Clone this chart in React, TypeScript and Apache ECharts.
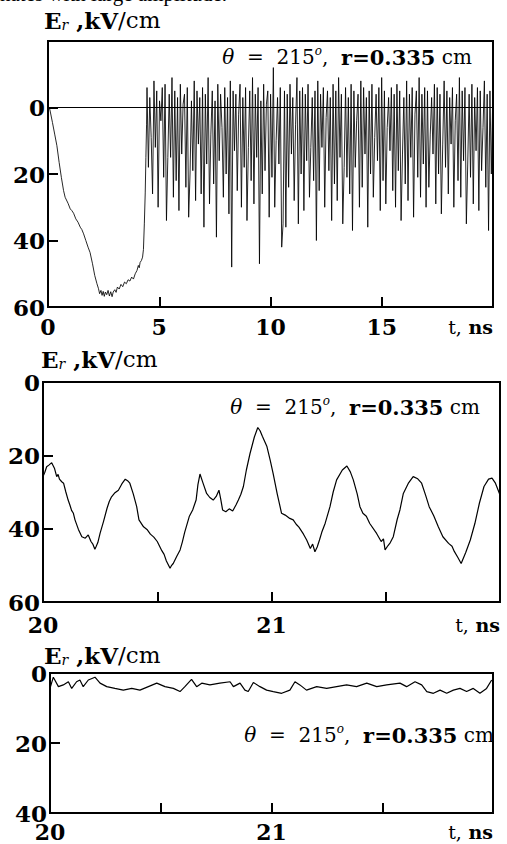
import React, { useEffect, useRef } from 'react';
import * as echarts from 'echarts';

// Panel 1: initial pulse (t in ns, Er in kV/cm, plotted downward)
const e1Pulse: [number, number][] = [
  [0, 0], [0.08, 0.5], [0.2, 4.5], [0.3, 8], [0.4, 11.5], [0.5, 16.5], [0.6, 21], [0.7, 25], [0.77, 27],
  [0.9, 28.8], [1.0, 30.5], [1.07, 31], [1.15, 31.8], [1.25, 33.5], [1.35, 34.5], [1.45, 36], [1.52, 36.7],
  [1.6, 38], [1.7, 40], [1.8, 42], [1.89, 43.6], [2.0, 47], [2.1, 50.5], [2.2, 53], [2.27, 54.5], [2.32, 56],
  [2.38, 55], [2.43, 56.5], [2.48, 55.3], [2.53, 56.8], [2.58, 55.5], [2.64, 56.3], [2.7, 55], [2.76, 56.7],
  [2.82, 55.4], [2.88, 56.9], [2.93, 55.5], [3.0, 54.8], [3.06, 55.6], [3.12, 54], [3.2, 54.6], [3.28, 53.2],
  [3.36, 53.9], [3.44, 52.5], [3.52, 53], [3.6, 51.8], [3.68, 52.2], [3.76, 51], [3.84, 51.6], [3.92, 50],
  [4.0, 49], [4.06, 47.5], [4.1, 48.2], [4.14, 46.6], [4.2, 46], [4.25, 45], [4.29, 42.7], [4.33, 35],
  [4.37, 25.7], [4.4, 15], [4.43, 5],
];

// Panel 1: fast oscillation after the pulse, sampled every e1OscStep ns from e1OscStart
const e1OscStart = 4.45;
const e1OscStep = 0.0624;
const e1Osc: number[] = [
  -6, 18, -3, 9, 26, -8, 12, -5, 30, -2, 4, -6, 21, -7, 34, 15, -4, 15, -9, 27,
  -5, 22, -3, 31, -7, 14, -1, -4, 24, -6, 33, 20, -2, 19, -8, 28, -5, 11, -3, 26,
  -6, 36, -4, 17, -9, 29, 8, -5, 23, -2, 39, -7, 16, -4, 6, 27, -6, 20, -3, 32,
  -8, 48, -5, 13, -4, 25, 2, -7, 30, -3, 18, -6, 34, 12, -5, 22, -9, 29, -4, 15,
  -6, 47, -2, 26, -7, 19, -1, -5, 33, -4, 21, -12, 30, 10, -3, 17, -6, 42, 35, -5,
  36, -4, 24, -7, 14, -3, 28, 5, -9, 35, -5, 20, -6, 31, -4, 16, -7, 27, 12, -3,
  22, -5, 40, -8, 25, -4, 12, -6, 30, 3, -5, 19, -3, 34, -7, 23, -5, 28, -9, 15,
  -4, 35, 18, -6, 21, -3, 26, -7, 37, -5, 18, 4, -4, 30, -8, 24, -6, 14, -3, 36,
  -5, 20, -7, 27, 9, -4, 16, -6, 31, -9, 22, -5, 29, 6, -3, 13, -6, 25, -4, 30,
  -7, 19, -5, 34, 14, -3, 23, -8, 28, -4, 15, -6, 33, 2, -5, 21, -9, 27, -4, 17,
  -6, 30, -5, 24, 8, -3, 14, -7, 29, -6, 20, -4, 32, 11, -8, 18, -5, 26, -3, 11,
  -6, 30, 4, -4, 22, -9, 27, -5, 16, -6, 35, 17, -4, 21, -7, 29, -3, 13, -6, 31,
  -5, 19, 6, -8, 24, -4, 37, -5, 20, -3,
];

// Panel 2: 20–22 ns
const e2Wave: [number, number][] = [
  [20.0, 25.8], [20.008, 24.6], [20.016, 23.1], [20.027, 22.6], [20.038, 22], [20.05, 23.5], [20.06, 25.8],
  [20.066, 25.2], [20.072, 26.5], [20.082, 27.2], [20.09, 27.6], [20.1, 30], [20.11, 32.2], [20.118, 33.6],
  [20.125, 35], [20.133, 35.8], [20.14, 37.6], [20.155, 40.2], [20.17, 42.2], [20.185, 42.6], [20.198, 41.7],
  [20.21, 43.5], [20.218, 44.2], [20.227, 45.6], [20.233, 44.8], [20.24, 43.8], [20.25, 41.2], [20.265, 38],
  [20.28, 34.5], [20.29, 32.6], [20.3, 31.3], [20.315, 30.2], [20.33, 29.5], [20.345, 27.8], [20.36, 26.5],
  [20.37, 26.9], [20.38, 27.6], [20.395, 30.5], [20.41, 34], [20.42, 37.6], [20.44, 39.5], [20.455, 40.2],
  [20.47, 41.5], [20.485, 42.3], [20.5, 43.5], [20.52, 46], [20.53, 47], [20.54, 48.8], [20.556, 50.8],
  [20.563, 50], [20.57, 49.5], [20.585, 47.6], [20.6, 45.8], [20.61, 43.6], [20.62, 41], [20.64, 36.7],
  [20.655, 34.9], [20.67, 32.2], [20.678, 28], [20.687, 25.1], [20.7, 27.5], [20.716, 30.4], [20.73, 31.5],
  [20.745, 32.2], [20.758, 31.2], [20.77, 29.5], [20.778, 32], [20.786, 34.9], [20.8, 35.4], [20.815, 34.6],
  [20.83, 35.2], [20.845, 33.5], [20.855, 32.2], [20.866, 30.6], [20.877, 28.5], [20.89, 24], [20.906, 19.5],
  [20.925, 15], [20.94, 12.4], [20.95, 13.3], [20.96, 14.8], [20.98, 17.6], [20.995, 21.5], [21.007, 24.9],
  [21.025, 30.5], [21.044, 35.8], [21.06, 36.3], [21.08, 37.2], [21.095, 37.6], [21.108, 38.8], [21.12, 39.6],
  [21.14, 41.5], [21.154, 43.1], [21.17, 45.4], [21.18, 44.2], [21.19, 46.3], [21.2, 45], [21.21, 43.1],
  [21.22, 41], [21.235, 38.5], [21.256, 34], [21.27, 30], [21.285, 26.7], [21.31, 24], [21.33, 22.9],
  [21.345, 24.5], [21.358, 26.7], [21.375, 30.5], [21.387, 34], [21.4, 35.8], [21.415, 36.6], [21.43, 38.6],
  [21.46, 41.3], [21.48, 43.5], [21.49, 42.8], [21.497, 45.8], [21.51, 44.6], [21.52, 43.8], [21.533, 42.2],
  [21.55, 37.5], [21.562, 34.9], [21.577, 30.4], [21.6, 27.5], [21.62, 25.8], [21.64, 26.4], [21.657, 27.6],
  [21.675, 31], [21.69, 34], [21.71, 36.5], [21.73, 39.5], [21.75, 42.2], [21.775, 44], [21.79, 44.8],
  [21.8, 46.2], [21.815, 47.8], [21.83, 49.5], [21.85, 46.5], [21.87, 43.1], [21.89, 38.6], [21.91, 33],
  [21.93, 28.5], [21.95, 26.5], [21.965, 26.2], [21.98, 27.6], [21.992, 29.5], [22.0, 30.8],
];

// Panel 3: 20–22 ns, small residual field
const e3Wave: [number, number][] = [
  [20.0, 4.4], [20.015, 1.2], [20.038, 3.9], [20.06, 3.4], [20.083, 2.5], [20.098, 4.4], [20.12, 2.5],
  [20.135, 2.0], [20.15, 3.9], [20.173, 2.0], [20.203, 1.2], [20.226, 2.9], [20.256, 3.9], [20.293, 4.4],
  [20.331, 4.9], [20.369, 4.4], [20.406, 4.9], [20.444, 3.9], [20.482, 2.9], [20.519, 3.9], [20.557, 4.4],
  [20.587, 5.3], [20.609, 3.9], [20.639, 1.8], [20.662, 3.9], [20.685, 2.9], [20.722, 3.4], [20.767, 2.9],
  [20.813, 2.5], [20.828, 3.9], [20.858, 2.9], [20.88, 4.9], [20.895, 5.3], [20.918, 2.7], [20.948, 3.9],
  [20.978, 4.9], [21.008, 5.3], [21.046, 5.8], [21.083, 4.9], [21.106, 2.5], [21.128, 3.4], [21.158, 4.9],
  [21.204, 3.9], [21.249, 4.4], [21.294, 3.9], [21.339, 3.4], [21.384, 3.9], [21.43, 2.9], [21.475, 3.9],
  [21.52, 3.4], [21.58, 2.9], [21.61, 3.9], [21.648, 2.5], [21.678, 3.4], [21.701, 5.3], [21.731, 5.8],
  [21.761, 4.9], [21.791, 5.8], [21.821, 4.9], [21.851, 4.4], [21.881, 5.3], [21.911, 4.4], [21.941, 5.8],
  [21.971, 4.4], [21.994, 2.0],
];

// Tick labels
const xLabels1: [number, string][] = [[0, '0'], [5, '5'], [10, '10'], [15, '15'], [20, 'T']];
const xLabels23: [number, string][] = [[20, '20'], [21, '21'], [22, 'T']];
const yLabels1: number[] = [0, 20, 40, 60];
const yLabels2: number[] = [0, 20, 40, 60];
const yLabels3: number[] = [0, 20, 40];

const SERIF = '"DejaVu Serif", serif';

export default function App() {
  const ref = useRef<HTMLDivElement>(null);
  useEffect(() => {
    if (!ref.current) return;
    const chart = echarts.init(ref.current, undefined, { renderer: 'svg' });

    const e1Data: [number, number][] = [
      ...e1Pulse,
      ...e1Osc.map((v, i) => [Math.round((e1OscStart + i * e1OscStep) * 1000) / 1000, v] as [number, number]),
    ];

    const xLabelRich = {
      r: { fontFamily: SERIF, fontSize: 19, fontWeight: 'normal', color: '#000', lineHeight: 16 },
      b: { fontFamily: SERIF, fontSize: 19, fontWeight: 'bold', color: '#000', lineHeight: 16 },
    };

    const axisLineStyle = { show: true, onZero: false, lineStyle: { color: '#000', width: 2 } };

    const xAxis = (gi: number, min: number, max: number, interval: number, labels: [number, string][], margin: number) => ({
      type: 'value',
      gridIndex: gi,
      min,
      max,
      interval,
      axisLine: axisLineStyle,
      splitLine: { show: false },
      axisTick: { show: true, inside: true, length: 10, lineStyle: { color: '#000', width: 2 } },
      axisLabel: {
        showMinLabel: true,
        showMaxLabel: true,
        alignMaxLabel: 'right',
        hideOverlap: false,
        margin,
        color: '#000',
        fontFamily: SERIF,
        fontWeight: 'bold',
        fontSize: 22,
        lineHeight: 16,
        rich: xLabelRich,
        formatter: (v: number) => {
          const f = labels.find((l) => Math.abs(l[0] - v) < 1e-6);
          if (!f) return '';
          if (f[1] === 'T') return '{r|t,}{b| ns}';
          return f[1];
        },
      },
    });

    const yAxis = (gi: number, min: number, max: number, labels: number[]) => ({
      type: 'value',
      gridIndex: gi,
      inverse: true,
      min,
      max,
      interval: 20,
      axisLine: axisLineStyle,
      splitLine: { show: false },
      axisTick: { show: true, inside: true, length: 10, lineStyle: { color: '#000', width: 2 } },
      axisLabel: {
        showMinLabel: true,
        showMaxLabel: true,
        hideOverlap: false,
        margin: 3,
        color: '#000',
        fontFamily: SERIF,
        fontWeight: 'bold',
        fontSize: 23,
        lineHeight: 16,
        formatter: (v: number) => (labels.includes(v) ? String(v) : ''),
      },
    });

    const gridBase = { show: true, borderColor: '#000', borderWidth: 2, backgroundColor: 'transparent', containLabel: false };

    const titleRich = {
      E: { fontFamily: SERIF, fontWeight: 'bold', fontSize: 23, color: '#000', lineHeight: 24 },
      s: { fontFamily: SERIF, fontStyle: 'italic', fontSize: 14, color: '#000', lineHeight: 24, verticalAlign: 'bottom' },
      b: { fontFamily: SERIF, fontWeight: 'bold', fontSize: 23, color: '#000', lineHeight: 24 },
      n: { fontFamily: SERIF, fontSize: 23, color: '#000', lineHeight: 24 },
    };
    const annRich = {
      i: { fontFamily: SERIF, fontStyle: 'italic', fontSize: 20, color: '#000', lineHeight: 24 },
      n: { fontFamily: SERIF, fontSize: 20, color: '#000', lineHeight: 24 },
      o: { fontFamily: SERIF, fontStyle: 'italic', fontSize: 12, color: '#000', lineHeight: 24, verticalAlign: 'top' },
      b: { fontFamily: SERIF, fontWeight: 'bold', fontSize: 21, color: '#000', lineHeight: 24 },
    };
    const title = (x: number, y: number) => ({
      type: 'text',
      x,
      y,
      style: { text: '{E|E}{s|r}{b| ,kV}{n|/cm}', rich: titleRich, align: 'left', verticalAlign: 'middle' },
    });
    const ann = (x: number, y: number) => ({
      type: 'text',
      x,
      y,
      style: { text: '{i|θ}{n|  =  215}{o|o}{n|,  }{b|r=0.335}{n| cm}', rich: annRich, align: 'right', verticalAlign: 'middle' },
    });

    chart.setOption({
      animation: false,
      grid: [
        { ...gridBase, left: 48, top: 41, width: 445, height: 266 },
        { ...gridBase, left: 43, top: 382, width: 457, height: 220 },
        { ...gridBase, left: 50, top: 673, width: 443, height: 140 },
      ],
      xAxis: [
        xAxis(0, 0, 20, 5, xLabels1, 12),
        xAxis(1, 20, 22, 0.5, xLabels23, 15),
        xAxis(2, 20, 22, 0.5, xLabels23, 11),
      ],
      yAxis: [yAxis(0, -20, 60, yLabels1), yAxis(1, 0, 60, yLabels2), yAxis(2, 0, 40, yLabels3)],
      series: [
        {
          type: 'line',
          xAxisIndex: 0,
          yAxisIndex: 0,
          data: e1Data,
          showSymbol: false,
          silent: true,
          lineStyle: { color: '#000', width: 0.85 },
          markLine: {
            silent: true,
            symbol: ['none', 'none'],
            label: { show: false },
            lineStyle: { color: '#000', width: 1, type: 'solid' },
            data: [{ yAxis: 0 }],
          },
        },
        {
          type: 'line',
          xAxisIndex: 1,
          yAxisIndex: 1,
          data: e2Wave,
          showSymbol: false,
          silent: true,
          lineStyle: { color: '#000', width: 1.2 },
        },
        {
          type: 'line',
          xAxisIndex: 2,
          yAxisIndex: 2,
          data: e3Wave,
          showSymbol: false,
          silent: true,
          lineStyle: { color: '#000', width: 1.2 },
        },
      ],
      graphic: [
        {
          type: 'text',
          x: 0,
          y: 4,
          style: {
            text: 'nates with large amplitude.',
            font: '21px "Liberation Serif", serif',
            fill: '#000',
            align: 'left',
            verticalAlign: 'bottom',
          },
        },
        title(44, 20),
        title(41, 359),
        title(44, 655),
        ann(472, 57),
        ann(480, 407),
        ann(494, 735),
      ],
    });
    return () => chart.dispose();
  }, []);
  return <div ref={ref} style={{ position: 'absolute', left: 0, top: 0, width: 507, height: 844, background: '#fff' }} />;
}
